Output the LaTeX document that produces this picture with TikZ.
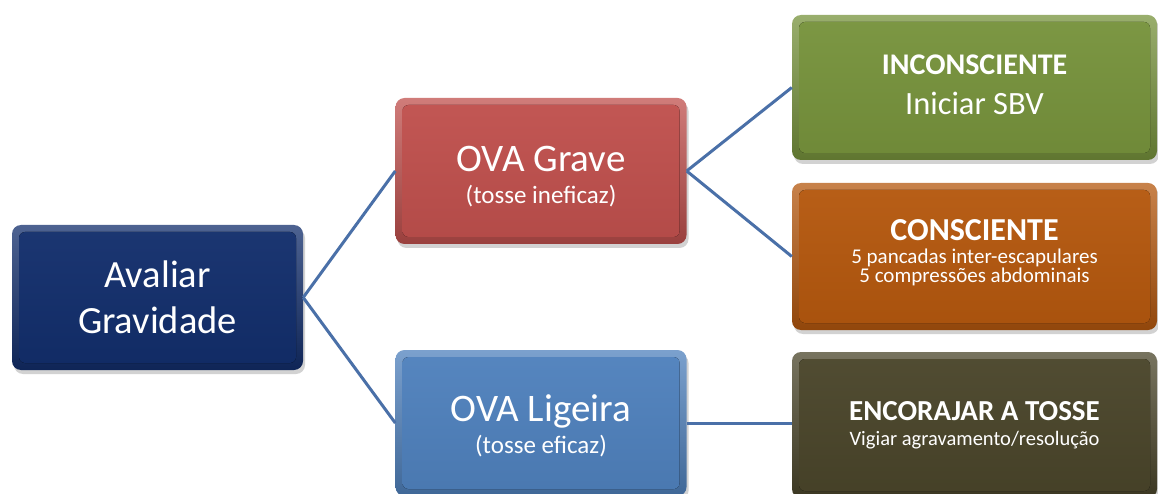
\documentclass[tikz,border=0pt]{standalone}
\usepackage{fontspec}
\setmainfont{Carlito}
\usetikzlibrary{shadows}
\definecolor{cnavy}{HTML}{122E6C}
\definecolor{cred}{HTML}{C0504D}
\definecolor{cblue}{HTML}{4F81BD}
\definecolor{cgreen}{HTML}{77933C}
\definecolor{corange}{HTML}{B5580E}
\definecolor{colive}{HTML}{4A452A}
\definecolor{cline}{HTML}{4A70A8}
\newcommand{\fsz}[2]{\fontsize{#1}{#2}\selectfont}
\tikzset{
  bx/.style={rounded corners=9pt, minimum width=291pt, minimum height=146pt,
    align=center, text=white, inner sep=0pt,
    drop shadow={shadow xshift=2pt,shadow yshift=-4pt,opacity=0.35},
    top color=#1!75!white, bottom color=#1!80!black,
    path picture={\fill[rounded corners=6pt, top color=#1!96!white, bottom color=#1!93!black]
      ([shift={(7pt,-7pt)}]path picture bounding box.north west) rectangle
      ([shift={(-7pt,7pt)}]path picture bounding box.south east);}},
  wide/.style={minimum width=365pt},
  conn/.style={draw=cline, line width=3pt},
}
\begin{document}
\begin{tikzpicture}[x=1pt,y=1pt]
\useasboundingbox (0,0) rectangle (1158,493);
\fill[white] (0,0) rectangle (1158,493);
\node[bx=cnavy, minimum height=145pt, font=\fsz{38}{46}] (av) at (157.5,195.5)
  {\fsz{38.5}{46}Avaliar\\\fsz{38.5}{46}Gravidade};
\node[bx=cred, font=\fsz{25}{32}] (grave) at (541,322)
  {\rule{0pt}{36pt}\fsz{39}{32}OVA Grave\\\fsz{25}{32}(tosse ineficaz)};
\node[bx=cblue, font=\fsz{25}{32}] (lig) at (541,70)
  {\rule{0pt}{32pt}\fsz{39}{32}OVA Ligeira\\\fsz{25}{32}(tosse eficaz)};
\node[bx=cgreen, wide, minimum height=145pt, font=\fsz{32}{40}] (inc) at (974.5,405.5)
  {\fsz{30}{40}\bfseries INCONSCIENTE\\\rule[-6pt]{0pt}{1pt}\fsz{32.5}{40}Iniciar SBV};
\node[bx=corange, wide, minimum height=147pt, font=\fsz{21}{19}] (con) at (974.5,236.5)
  {\fsz{32}{19}\bfseries CONSCIENTE\\[4pt]\fsz{21}{19}5 pancadas inter-escapulares\\\rule[-10pt]{0pt}{1pt}\fsz{21}{19}5 compressões abdominais};
\node[bx=colive, wide, font=\fsz{20.5}{25}] (enc) at (974.5,68)
  {\fsz{29}{25}\bfseries ENCORAJAR A TOSSE\\\fsz{20.5}{25}Vigiar agravamento/resolução};
\draw[conn] (av.east) -- (grave.west);
\draw[conn] (av.east) -- (lig.west);
\draw[conn] (grave.east) -- (inc.west);
\draw[conn] (grave.east) -- (con.west);
\draw[conn] (lig.east) -- (lig.east -| enc.west);
\end{tikzpicture}
\end{document}
